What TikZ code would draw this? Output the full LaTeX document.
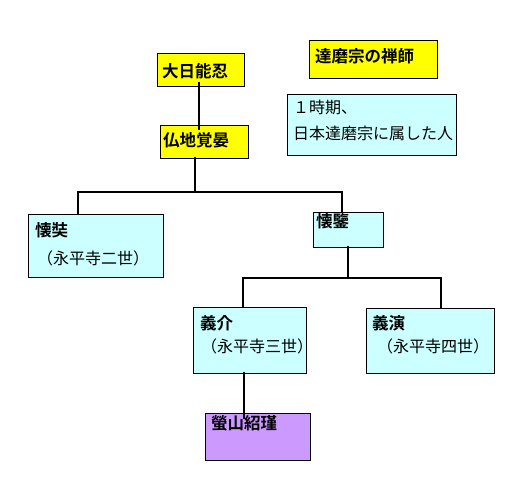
\documentclass[tikz,border=0pt]{standalone}
\usepackage{fontspec}
\setmainfont{Noto Sans CJK JP}
\newfontfamily\jpbold{Noto Sans CJK JP Bold}
\definecolor{ylw}{HTML}{FFFF00}
\definecolor{cyn}{HTML}{CCFFFF}
\definecolor{prp}{HTML}{CC99FF}
\begin{document}
\begin{tikzpicture}[x=1pt,y=-1pt,
  box/.style={draw=black,line width=0.8pt,rectangle,inner sep=0pt},
  ybox/.style={box,fill=ylw},
  cbox/.style={box,fill=cyn},
  pbox/.style={box,fill=prp},
  ttl/.style={anchor=west,inner sep=0pt,font={\jpbold\fontsize{16.5}{19}\selectfont}},
  txt/.style={anchor=west,inner sep=0pt,font={\fontsize{16}{19}\selectfont}},
  conn/.style={line width=2pt,line cap=rect}]
\useasboundingbox[fill=white] (0,0) rectangle (523,497);
% boxes
\node[ybox,minimum width=87pt,minimum height=33pt] (dainichi) at (200.5,69.5) {};
\node[ttl] (dainichiT) at (162,71) {大日能忍};
\node[ybox,minimum width=88pt,minimum height=33pt] (butchi) at (204,141.5) {};
\node[ttl] (butchiT) at (163,140) {仏地覚晏};
\node[ybox,minimum width=128pt,minimum height=38pt] (zenji) at (373,59) {};
\node[ttl] (zenjiT) at (315,56) {達磨宗の禅師};
\node[cbox,minimum width=169pt,minimum height=61pt] (info) at (371.5,124.5) {};
\node[txt] (infoA) at (293,107) {１時期、};
\node[txt] (infoB) at (293,133) {日本達磨宗に属した人};
\node[cbox,minimum width=135pt,minimum height=63pt] (ejo) at (95.5,245.5) {};
\node[ttl] (ejoT) at (35,230) {懐奘};
\node[txt] (ejoS) at (37,258) {（永平寺二世）};
\node[cbox,minimum width=70pt,minimum height=35pt] (ekan) at (348,229.5) {};
\node[ttl] (ekanT) at (316,221) {懐鑒};
\node[cbox,minimum width=113pt,minimum height=66pt] (gikai) at (249.5,340) {};
\node[ttl] (gikaiT) at (200,323) {義介};
\node[txt] (gikaiS) at (201,346) {（永平寺三世）};
\node[cbox,minimum width=128pt,minimum height=65pt] (gien) at (430,340.5) {};
\node[ttl] (gienT) at (372,323) {義演};
\node[txt] (gienS) at (377,346) {（永平寺四世）};
\node[pbox,minimum width=105pt,minimum height=47pt] (keizan) at (257.5,436.5) {};
\node[ttl] (keizanT) at (211,423) {螢山紹瑾};
% junction coordinates
\coordinate (j1) at (195,192);
\coordinate (j1L) at (78,192);
\coordinate (j1R) at (342,192);
\coordinate (j2) at (348,278);
\coordinate (j2L) at (243,278);
\coordinate (j2R) at (441,278);
% connectors
\draw[conn] ([yshift=3pt]dainichi.south -| 199,0) -- ([yshift=-4pt]butchi.north -| 199,0);
\draw[conn] (butchi.south -| j1) -- (j1);
\draw[conn] (j1L) -- (j1R);
\draw[conn] (j1L) -- (ejo.north -| j1L);
\draw[conn] (j1R) -- (ekan.north -| j1R);
\draw[conn] (ekan.south -| j2) -- (j2);
\draw[conn] (j2L) -- (j2R);
\draw[conn] (j2L) -- (gikai.north -| j2L);
\draw[conn] (j2R) -- (gien.north -| j2R);
\draw[conn] (gikai.south -| 244,0) -- ([yshift=-5pt]keizan.north -| 244,0);
\end{tikzpicture}
\end{document}
